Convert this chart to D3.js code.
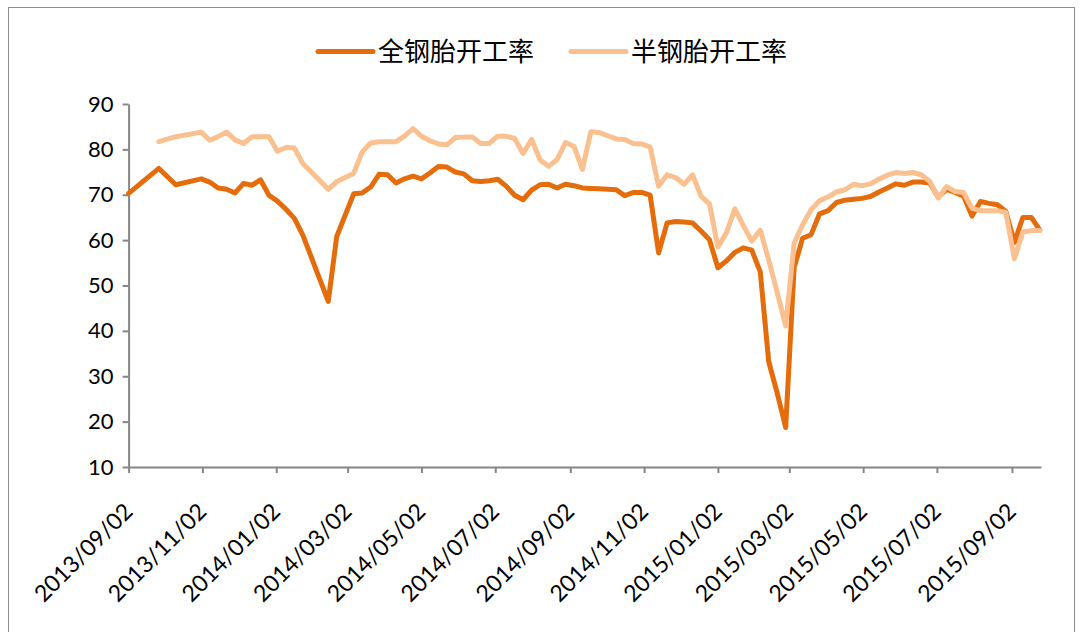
<!DOCTYPE html>
<html>
<head>
<meta charset="utf-8">
<script src="https://cdn.jsdelivr.net/npm/d3@7"></script>
<style>
    body { margin: 0; background: #fff; }
    #chart { width: 1083px; height: 632px; }
</style>
</head>
<body>
<div id="chart"></div>
<script>
// weekly dates (first point is the axis start)
var dates = [
    "2013-09-02",
    "2013-09-27", "2013-10-04", "2013-10-11", "2013-10-18", "2013-10-25", "2013-11-01", "2013-11-08", "2013-11-15", "2013-11-22", "2013-11-29",
    "2013-12-06", "2013-12-13", "2013-12-20", "2013-12-27", "2014-01-03", "2014-01-10", "2014-01-17", "2014-01-24", "2014-01-31", "2014-02-07",
    "2014-02-14", "2014-02-21", "2014-02-28", "2014-03-07", "2014-03-14", "2014-03-21", "2014-03-28", "2014-04-04", "2014-04-11", "2014-04-18",
    "2014-04-25", "2014-05-02", "2014-05-09", "2014-05-16", "2014-05-23", "2014-05-30", "2014-06-06", "2014-06-13", "2014-06-20", "2014-06-27",
    "2014-07-04", "2014-07-11", "2014-07-18", "2014-07-25", "2014-08-01", "2014-08-08", "2014-08-15", "2014-08-22", "2014-08-29", "2014-09-05",
    "2014-09-12", "2014-09-19", "2014-09-26", "2014-10-03", "2014-10-10", "2014-10-17", "2014-10-24", "2014-10-31", "2014-11-07", "2014-11-14",
    "2014-11-21", "2014-11-28", "2014-12-05", "2014-12-12", "2014-12-19", "2014-12-26", "2015-01-02", "2015-01-09", "2015-01-16", "2015-01-23",
    "2015-01-30", "2015-02-06", "2015-02-13", "2015-02-20", "2015-02-27", "2015-03-06", "2015-03-13", "2015-03-20", "2015-03-27", "2015-04-03",
    "2015-04-10", "2015-04-17", "2015-04-24", "2015-05-01", "2015-05-08", "2015-05-15", "2015-05-22", "2015-05-29", "2015-06-05", "2015-06-12",
    "2015-06-19", "2015-06-26", "2015-07-03", "2015-07-10", "2015-07-17", "2015-07-24", "2015-07-31", "2015-08-07", "2015-08-14", "2015-08-21",
    "2015-08-28", "2015-09-04", "2015-09-11", "2015-09-18", "2015-09-25"
];

// 全钢胎开工率
var fullSteel = [
    70.3,
    75.8, null, 72.2, null, null, 73.5, 72.8, 71.5, 71.2, 70.4,
    72.5, 72.1, 73.3, 69.9, 68.6, 66.8, 64.8, 61.1, null, null,
    46.5, 60.8, null, 70.2, 70.4, 71.7, 74.5, 74.4, 72.6, 73.5,
    74.1, 73.5, 74.8, 76.2, 76.1, 75.0, 74.6, 73.1, 72.9, 73.1,
    73.4, 71.9, 69.9, 68.9, 71.0, 72.2, 72.3, 71.5, 72.3, 72.0,
    71.5, 71.4, 71.3, 71.2, 71.1, 69.8, 70.5, 70.5, 69.9, 57.2,
    63.8, 64.1, 64.0, 63.8, 62.0, 60.1, 53.9, 55.4, 57.3, 58.3,
    57.8, 53.0, 33.2, 26.3, 18.7, 54.0, 60.4, 61.2, 65.8, 66.5,
    68.3, 68.8, 69.0, 69.2, 69.6, 70.6, 71.5, 72.4, 72.1, 72.8,
    72.8, 72.6, 69.5, 71.2, 70.5, 69.7, 65.3, 68.5, 68.1, 67.8,
    66.3, 59.5, 65.0, 65.0, 62.2
];

// 半钢胎开工率
var semiSteel = [
    null,
    81.7, null, 82.8, null, null, 83.8, 82.0, 82.8, 83.8, 82.1,
    81.3, 82.8, 82.8, 82.8, 79.6, 80.4, 80.3, 76.9, null, null,
    71.2, 72.9, null, 74.7, 79.4, 81.4, 81.7, 81.7, 81.7, 82.9,
    84.6, 82.9, 81.9, 81.2, 81.0, 82.6, 82.7, 82.7, 81.3, 81.3,
    82.9, 82.9, 82.4, 79.1, 82.2, 77.7, 76.3, 77.7, 81.5, 80.7,
    75.6, 83.9, 83.7, 83.0, 82.3, 82.2, 81.3, 81.2, 80.5, 71.9,
    74.4, 73.8, 72.3, 74.4, 69.7, 68.0, 58.5, 61.6, 66.9, 63.2,
    59.8, 62.2, 55.6, 48.5, 41.1, 59.3, 63.4, 66.7, 68.7, 69.5,
    70.6, 71.1, 72.3, 72.0, 72.4, 73.4, 74.3, 74.9, 74.7, 74.9,
    74.4, 73.0, 69.3, 71.8, 70.7, 70.5, 67.0, 66.5, 66.5, 66.5,
    66.1, 55.9, 61.8, 62.1, 62.1
];

var seriesNames = ["全钢胎开工率", "半钢胎开工率"];
var tickDates = ["2013-09-02", "2013-11-02", "2014-01-02", "2014-03-02", "2014-05-02", "2014-07-02",
    "2014-09-02", "2014-11-02", "2015-01-02", "2015-03-02", "2015-05-02", "2015-07-02", "2015-09-02"];
var yTicks = [10, 20, 30, 40, 50, 60, 70, 80, 90];

var svgWidth = 1083;
var svgHeight = 632;
var plotLeft = 128.6, plotRight = 1041, plotTop = 104, plotBottom = 467;
var colors = ["#e46c0a", "#fac090"];
var axisColor = "#868686";
var numFont = "Lato, 'Open Sans', sans-serif";

var parse = d3.timeParse("%Y-%m-%d");
var fmt = d3.timeFormat("%Y/%m/%d");

var svg = d3.select("#chart")
    .append("svg")
    .attr("width", svgWidth)
    .attr("height", svgHeight);

// outer frame
svg.append("rect")
    .attr("x", 8.5)
    .attr("y", 7.5)
    .attr("width", 1066)
    .attr("height", 700)
    .attr("fill", "none")
    .attr("stroke", "#8c8c8c")
    .attr("stroke-width", 1);

var x = d3.scaleTime()
    .domain([parse("2013-09-02"), parse("2015-09-26")])
    .range([plotLeft, plotRight]);

var y = d3.scaleLinear()
    .domain([10, 90])
    .range([plotBottom, plotTop]);

//Y axis
var yAxis = svg.append("g")
    .attr("transform", "translate(" + plotLeft + ",0)")
    .call(d3.axisLeft(y).tickValues(yTicks).tickSize(6).tickSizeOuter(0).tickPadding(9).tickFormat(d3.format("d")));

yAxis.select(".domain").attr("stroke", axisColor).attr("stroke-width", 2);
yAxis.selectAll(".tick line").attr("stroke", axisColor).attr("stroke-width", 2);
yAxis.selectAll(".tick text")
    .attr("fill", "#000")
    .style("font-family", numFont)
    .style("font-size", "22px");

//X axis
var xAxis = svg.append("g")
    .attr("transform", "translate(0," + plotBottom + ")")
    .call(d3.axisBottom(x).tickValues(tickDates.map(parse)).tickSize(6).tickSizeOuter(0).tickFormat(fmt));

xAxis.select(".domain").attr("stroke", axisColor).attr("stroke-width", 2);
xAxis.selectAll(".tick line").attr("stroke", axisColor).attr("stroke-width", 2);
xAxis.selectAll(".tick text")
    .attr("fill", "#000")
    .style("font-family", numFont)
    .style("font-size", "23px")
    .style("text-anchor", "end")
    .attr("dy", null)
    .attr("y", null)
    .attr("transform", "translate(5,46) rotate(-45)");

// lines
var line = d3.line()
    .x(function (d) { return x(d.date); })
    .y(function (d) { return y(d.value); });

[fullSteel, semiSteel].forEach(function (values, i) {
    var pts = [];
    for (var k = 0; k < dates.length; k++) {
        if (values[k] !== null) pts.push({ date: parse(dates[k]), value: values[k] });
    }
    svg.append("path")
        .datum(pts)
        .attr("fill", "none")
        .attr("stroke", colors[i])
        .attr("stroke-width", 5)
        .attr("stroke-linejoin", "round")
        .attr("stroke-linecap", "round")
        .attr("d", line);
});

// legend
var legendX = [318, 571];
var legend = svg.selectAll(".legend")
    .data(seriesNames)
    .enter()
    .append("g")
    .attr("class", "legend")
    .attr("transform", function (d, i) { return "translate(" + legendX[i] + ",51.5)"; });

legend.append("line")
    .attr("x1", 0)
    .attr("x2", 55)
    .attr("stroke", function (d, i) { return colors[i]; })
    .attr("stroke-width", 5)
    .attr("stroke-linecap", "round");

legend.append("text")
    .attr("x", 60)
    .attr("dy", "0.36em")
    .text(function (d) { return d; })
    .style("font-family", "'Noto Sans CJK SC', sans-serif")
    .style("font-size", "26px")
    .attr("fill", "#000");
</script>
</body>
</html>
